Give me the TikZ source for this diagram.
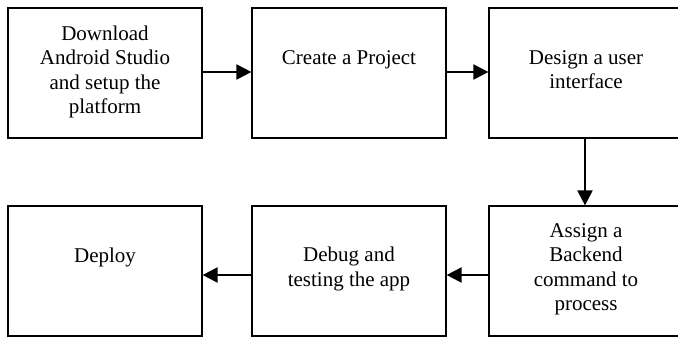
\documentclass[tikz,border=0pt]{standalone}
\usepackage{fontspec}
\setmainfont{Liberation Serif}
\usetikzlibrary{arrows.meta}
\newcommand{\boxtext}[2]{\parbox[c][130pt][t]{190pt}{\centering\fontsize{21}{24.5}\selectfont\vspace*{#1}\strut #2\par}}
\tikzset{
  stepbox/.style={draw, line width=1.2pt, inner sep=0pt, minimum width=194pt, minimum height=130pt, anchor=center},
  flow/.style={line width=2pt, -{Triangle[length=15pt,width=15pt]}}
}
\begin{document}
\begin{tikzpicture}[x=1pt,y=-1pt]
\useasboundingbox (0,0) rectangle (678,338);
\node[stepbox] (b1) at (105,73) {\boxtext{15pt}{Download\\Android Studio\\and setup the\\platform}};
\node[stepbox] (b2) at (349,73) {\boxtext{39.5pt}{Create a Project}};
\node[stepbox] (b3) at (586,73) {\boxtext{39pt}{Design a user\\interface}};
\node[stepbox] (b4) at (586,271) {\boxtext{14pt}{Assign a\\Backend\\command to\\process}};
\node[stepbox] (b5) at (349,271) {\boxtext{38.5pt}{Debug and\\testing the app}};
\node[stepbox] (b6) at (105,271) {\boxtext{39.5pt}{Deploy}};
\draw[flow] ([yshift=1pt]b1.east) -- ([yshift=1pt]b2.west);
\draw[flow] ([yshift=1pt]b2.east) -- ([yshift=1pt]b3.west);
\draw[flow] ([xshift=-1pt]b3.south) -- ([xshift=-1pt]b4.north);
\draw[flow] ([yshift=-4pt]b4.west) -- ([yshift=-4pt]b5.east);
\draw[flow] ([yshift=-4pt]b5.west) -- ([yshift=-4pt]b6.east);
\end{tikzpicture}
\end{document}
